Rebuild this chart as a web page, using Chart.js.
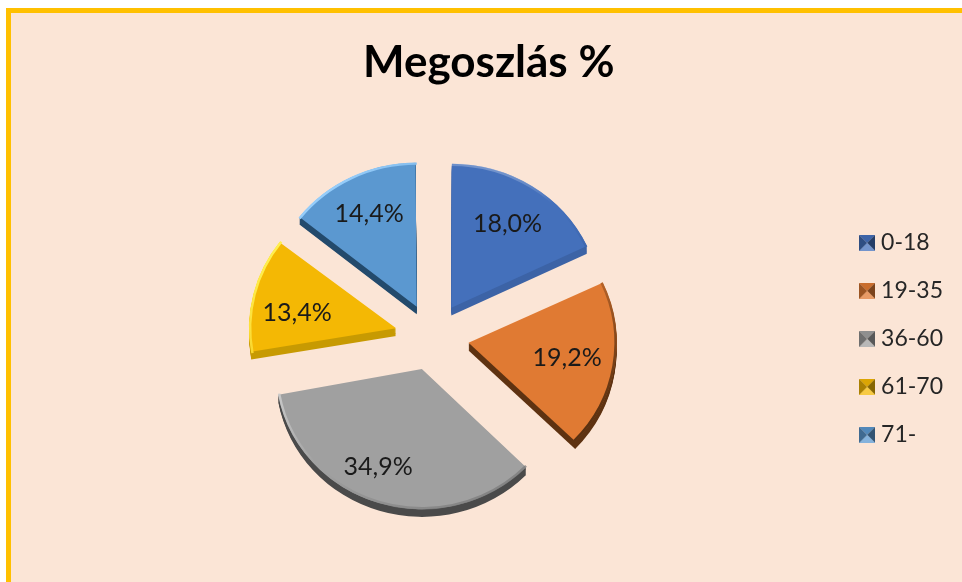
<!DOCTYPE html>
<html>
<head>
<meta charset="utf-8">
<script src="https://cdn.jsdelivr.net/npm/chart.js@4"></script>
<style>
    html, body { margin: 0; height: 100%; overflow: hidden; background: #fff; }
    #frame { position: absolute; left: 6px; top: 8px; width: 956px; height: 574px; box-sizing: border-box;
             background: #fbe5d6; border-left: 5px solid #ffc000; border-top: 5px solid #ffc000; }
    #pie { position: absolute; left: 11px; top: 13px; }
</style>
</head>
<body>
<div id="frame"></div>
<canvas id="pie" width="942" height="569"></canvas>
<script>
const ageGroups = ['0-18', '19-35', '36-60', '61-70', '71-'];
const shares = [18.0, 19.2, 34.9, 13.4, 14.4];
const sliceColors = ['#4470bb', '#e07a33', '#a0a0a0', '#f4b804', '#5b98d0'];
const sideColors = ['#3c63a6', '#5e3211', '#4a4a4a', '#c79a02', '#234a6c'];
const lightRim = ['rgba(255,255,255,0)', 'rgba(255,255,255,0)', 'rgba(235,235,235,0.9)', 'rgba(255,240,80,1)', 'rgba(150,205,250,1)'];
const darkRim = ['rgba(50,85,150,0.9)', 'rgba(90,48,16,1)', 'rgba(120,120,120,0.7)', 'rgba(0,0,0,0)', 'rgba(0,0,0,0)'];
const explode = [144, 148, 140, 148, 140]; // arc draws offset/4
const drawnRadius = [150, 148, 146, 147, 150];
const labelNudge = [[2, 4], [0, 0], [-14, 0], [-2, 10], [-3, 1]];
const tilt = 0.96; // pie is seen slightly from above
const fontName = 'Lato, "Noto Sans", sans-serif';

function bevelSwatch(color) {
    // little pyramid marker like the office legend keys
    const c = document.createElement('canvas');
    c.width = 16; c.height = 16;
    const g = c.getContext('2d');
    const tri = (pts, dim) => {
        g.beginPath();
        g.moveTo(pts[0], pts[1]); g.lineTo(pts[2], pts[3]); g.lineTo(8, 8); g.closePath();
        g.fillStyle = color; g.fill();
        g.fillStyle = dim; g.fill();
    };
    tri([0, 0, 16, 0], 'rgba(0,0,0,0.1)');
    tri([16, 0, 16, 16], 'rgba(0,0,0,0.45)');
    tri([0, 16, 16, 16], 'rgba(255,255,255,0.25)');
    tri([0, 0, 0, 16], 'rgba(0,0,0,0.3)');
    return c;
}
const swatches = sliceColors.map(bevelSwatch);

// arc.draw adds this much to the radius of a sliced-out arc
function radiusExtra(el) {
    const fix = 1 - Math.sin(Math.min(Math.PI, el.circumference));
    return el.options.offset / 4 * fix;
}

function shiftedCenter(el) {
    const mid = (el.startAngle + el.endAngle) / 2;
    const off = el.options.offset / 4;
    return { x: el.x + Math.cos(mid) * off, y: el.y + Math.sin(mid) * off, mid };
}

const pie3d = {
    id: 'pie3d',
    afterLayout(chart) {
        // legend sits a touch below the pie centre
        chart.legend.top += 3;
        chart.legend.bottom += 3;
    },
    beforeDatasetsDraw(chart) {
        const ctx = chart.ctx;
        const arcs = chart.getDatasetMeta(0).data;
        // restored again in afterDatasetsDraw
        ctx.save();
        ctx.translate(0, arcs[0].y + 1);
        ctx.scale(1, tilt);
        ctx.translate(0, -arcs[0].y);
        arcs.forEach((el, i) => {
            el.outerRadius = drawnRadius[i] - radiusExtra(el);
            const saved = el.options;
            el.options = Object.assign({}, saved, { backgroundColor: sideColors[i], borderWidth: 0 });
            for (let d = 1; d <= 8; d++) {
                ctx.save();
                ctx.translate(0, d);
                el.draw(ctx);
                ctx.restore();
            }
            el.options = saved;
        });
    },
    afterDatasetsDraw(chart) {
        const ctx = chart.ctx;
        const arcs = chart.getDatasetMeta(0).data;
        arcs.forEach((el, i) => {
            const c = shiftedCenter(el);
            const r = drawnRadius[i] - 1;
            const grad = ctx.createLinearGradient(c.x - r * 0.7, c.y - r * 0.7, c.x + r * 0.7, c.y + r * 0.7);
            grad.addColorStop(0, lightRim[i]);
            grad.addColorStop(0.48, sliceColors[i]);
            grad.addColorStop(0.52, sliceColors[i]);
            grad.addColorStop(1, darkRim[i]);
            ctx.beginPath();
            ctx.arc(c.x, c.y, r, el.startAngle, el.endAngle);
            ctx.strokeStyle = grad;
            ctx.lineWidth = 2.5;
            ctx.stroke();
        });
        ctx.restore();

        // value labels
        ctx.save();
        ctx.font = '25px ' + fontName;
        ctx.fillStyle = '#1a1a1a';
        ctx.textAlign = 'center';
        ctx.textBaseline = 'middle';
        arcs.forEach((el, i) => {
            const mid = (el.startAngle + el.endAngle) / 2;
            ctx.fillText(shares[i].toFixed(1).replace('.', ',') + '%',
                el.x + Math.cos(mid) * 137 + labelNudge[i][0],
                el.y + Math.sin(mid) * 137 + labelNudge[i][1]);
        });
        ctx.restore();
    }
};

new Chart(document.getElementById('pie'), {
    type: 'pie',
    data: {
        labels: ageGroups,
        datasets: [{
            data: shares,
            backgroundColor: sliceColors,
            borderWidth: 0,
            offset: explode,
            radius: 148,
            clip: false
        }]
    },
    options: {
        responsive: false,
        animation: false,
        events: [],
        layout: { padding: { left: 13.5 } },
        plugins: {
            tooltip: { enabled: false },
            title: {
                display: true,
                text: 'Megoszlás %',
                color: '#000',
                font: { family: fontName, size: 44, weight: 'bold' },
                padding: { top: 23, bottom: 1 }
            },
            legend: {
                position: 'right',
                fullSize: false,
                labels: {
                    color: '#262626',
                    font: { family: fontName, size: 23 },
                    padding: 25,
                    usePointStyle: true,
                    pointStyleWidth: 5,
                    generateLabels(chart) {
                        const items = Chart.overrides.doughnut.plugins.legend.labels.generateLabels(chart);
                        items.forEach((it, i) => { it.pointStyle = swatches[i]; it.lineWidth = 0; });
                        return items;
                    }
                }
            }
        }
    },
    plugins: [pie3d]
});
</script>
</body>
</html>
